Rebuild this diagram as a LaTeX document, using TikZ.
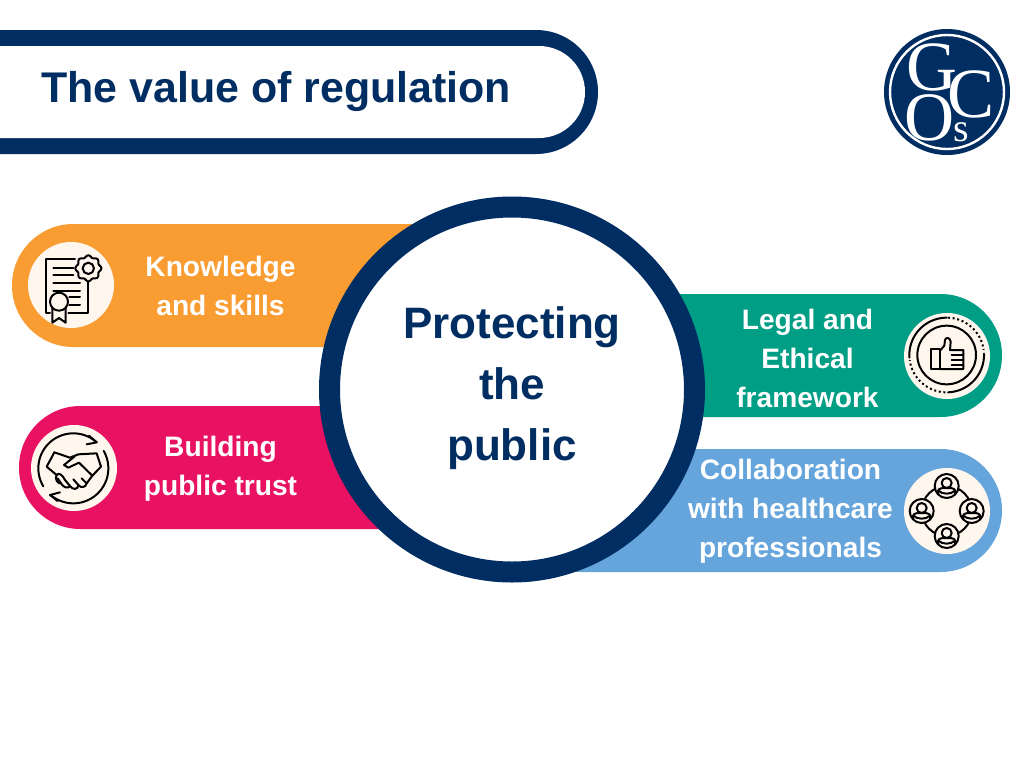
\documentclass[tikz,border=0pt]{standalone}
\usepackage{fontspec}
\setmainfont{Liberation Sans}
\newfontfamily\logofont{Liberation Serif}
\definecolor{navy}{HTML}{002D62}
\definecolor{orangeP}{HTML}{F99D33}
\definecolor{pinkP}{HTML}{E91162}
\definecolor{greenP}{HTML}{009E85}
\definecolor{blueP}{HTML}{65A5DC}
\definecolor{cream}{HTML}{FFF7EE}
\newcommand{\fsz}[2]{\fontsize{#1}{#2}\selectfont}
\tikzset{
  x=.75pt,y=-.75pt,
  pilltext/.style={text=white,font=\bfseries\fsz{21.1}{29.25},align=center,inner sep=0pt},
  hubtext/.style={text=navy,font=\bfseries\fsz{33}{45.75},align=center,inner sep=0pt},
  logoletter/.style={text=white,inner sep=0pt},
  icon/.style={draw=black,line width=1.5pt,line cap=round,line join=round},
  zoomed/.style={x=.25pt,y=-.25pt}
}
\newcommand{\arcplot}[6][]{\draw[icon,#1] plot[domain=#5:#6,samples=50,smooth] ({#2+#4*cos(\x)},{#3+#4*sin(\x)});}
\begin{document}
\begin{tikzpicture}
\useasboundingbox (0,0) rectangle (1024,768);
\fill[white] (0,0) rectangle (1024,768);
% title bar
\fill[navy] (0,30) {[rounded corners=46.5pt] -- (598,30) -- (598,154)} -- (0,154) -- cycle;
\fill[white] (0,46) {[rounded corners=34.5pt] -- (585,46) -- (585,138)} -- (0,138) -- cycle;
\node[anchor=base west,text=navy,font=\bfseries\fsz{32.2}{36},inner sep=0pt] (title) at (41,102) {The value of regulation};
% pills
\fill[orangeP,rounded corners=46pt] (12,224) rectangle (500,347);
\fill[pinkP,rounded corners=46pt] (19,406) rectangle (500,529);
\fill[greenP,rounded corners=46pt] (520,294) rectangle (1002,417);
\fill[blueP,rounded corners=46pt] (520,449) rectangle (1002,572);
% hub
\fill[white,draw=navy,line width=15.75pt] (512,389.5) circle [radius=182.5];
\node[hubtext] (hub) at (512,388) {Protecting\\the\\public};
% pill labels
\node[pilltext] (know) at (220.5,286) {Knowledge\\and skills};
\node[pilltext] (trust) at (220.5,468.5) {Building\\public trust};
\node[pilltext] (legal) at (807.5,358.5) {Legal and\\Ethical\\framework};
\node[pilltext] (collab) at (790.5,511) {Collaboration\\with healthcare\\professionals};
% icon discs
\fill[cream] (71,285) circle [radius=43];
\fill[cream] (74,468) circle [radius=43];
\fill[cream] (947,356) circle [radius=43];
\fill[cream] (947,511) circle [radius=43];
% certificate
\begin{scope}[shift={(10,230)},zoomed]
\draw[icon] (195,87) -- (107,87) -- (107,248) -- (120,248);
\draw[icon] (175,248) -- (233,248) -- (233,150);
\foreach \yy/\xa/\xb in {115/130/190,135/130/190,158/130/210,182/130/210,202/178/210,225/178/210}
  \draw[icon] (\xa,\yy) -- (\xb,\yy);
\fill[cream,draw=black,line width=1.5pt,line join=round] plot[domain=0:357,samples=97,smooth cycle] ({235+(36+3*cos(8*\x))*cos(\x)},{115+(36+3*cos(8*\x))*sin(\x)});
\draw[icon] (235,115) circle [radius=17];
\draw[icon,fill=cream] (127,235) -- (127,278) -- (147,264) -- (167,278) -- (167,235);
\draw[icon,fill=cream] (147,215) circle [radius=27];
\end{scope}
% handshake
\begin{scope}[shift={(15,415)},zoomed]
\arcplot{175}{160}{105}{149}{312}
\arcplot{175}{160}{105}{-30}{131}
\draw[icon] (222,62) -- (245,82) -- (215,88);
\draw[icon] (128,258) -- (105,240) -- (135,232);
\draw[icon] (118,112) -- (95,155) -- (125,180);
\draw[icon] (118,112) -- (165,128) -- (190,118) -- (245,115) -- (258,155) -- (232,182);
\draw[icon] (178,125) -- (147,150) -- (160,158) -- (192,143) -- (232,182) -- (215,205) -- (200,190);
\draw[icon] (215,205) .. controls (212,218) and (198,220) .. (190,210) -- (175,193);
\draw[icon] (190,210) .. controls (190,225) and (172,225) .. (165,213) -- (150,195);
\draw[icon] (165,213) .. controls (160,222) and (145,218) .. (138,205) -- (128,190);
\draw[icon] (138,205) .. controls (128,208) and (118,190) .. (125,180) .. controls (130,172) and (142,178) .. (150,195);
\end{scope}
% thumbs up
\begin{scope}[shift={(895,305)},zoomed]
\draw[icon] (155,150) circle [radius=88];
\arcplot{155}{150}{112}{176}{270}
\arcplot{155}{150}{112}{-2}{88}
\draw[black,line width=1.5pt,dash pattern=on 1.5pt off 2pt] plot[domain=-88:-8,samples=40,smooth] ({155+112*cos(\x)},{150+112*sin(\x)});
\draw[black,line width=1.5pt,dash pattern=on 1.5pt off 2pt] plot[domain=92:172,samples=40,smooth] ({155+112*cos(\x)},{150+112*sin(\x)});
\draw[icon] (108,133) rectangle (135,192);
\draw[icon] (135,137) -- (148,122) -- (150,105) .. controls (152,95) and (166,98) .. (167,110) -- (165,135) -- (205,135) -- (205,192) -- (135,192);
\foreach \yy in {150,165,180} \draw[icon] (170,\yy) -- (205,\yy);
\end{scope}
% people
\begin{scope}[shift={(895,460)},zoomed]
\draw[icon] (155,153) circle [radius=75];
\foreach \cx/\cy in {155/78,80/153,230/153,155/228}{
  \begin{scope}[shift={(\cx,\cy)}]
  \fill[cream] (0,0) circle [radius=37];
  \draw[icon] (0,0) circle [radius=36];
  \draw[icon] (0,-9) circle [radius=15];
  \draw[icon] (-25,24) .. controls (-30,10) and (-20,6) .. (-8,6) -- (8,6) .. controls (20,6) and (30,10) .. (25,24);
  \draw[icon] (-25,14) .. controls (-12,26) and (12,26) .. (25,14);
  \end{scope}
}
\end{scope}
% logo
\fill[navy] (947,92) circle [radius=63];
\draw[white,line width=1.8pt] (947,92) circle [radius=57];
\node[logoletter,font=\logofont\fsz{53}{53}] (letterG) at (932,67) {G};
\node[logoletter,font=\logofont\fsz{53}{53}] (letterC) at (971,94) {C};
\node[logoletter,font=\logofont\fsz{52}{52}] (letterO) at (930,118) {O};
\node[logoletter,font=\logofont\fsz{30}{30}] (letterS) at (961,132) {s};
\end{tikzpicture}
\end{document}
